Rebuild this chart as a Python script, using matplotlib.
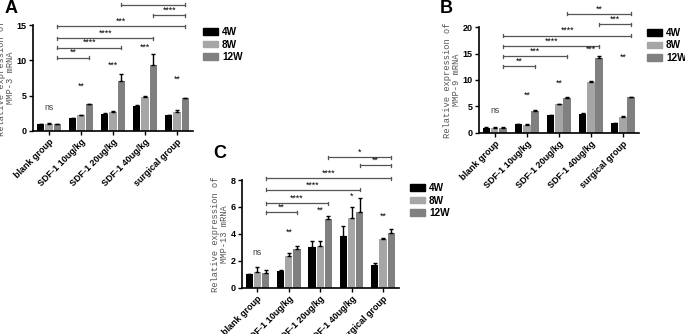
"""
Relative MMP-3 / MMP-9 / MMP-13 mRNA expression across treatment groups (4W, 8W, 12W).
"""

import matplotlib

matplotlib.use("Agg")
import matplotlib.pyplot as plt
from matplotlib.patches import Patch

groups = ["blank group", "SDF-1 10ug/kg", "SDF-1 20ug/kg", "SDF-1 40ug/kg", "surgical group"]
weeks = ["4W", "8W", "12W"]

mmp3_4w = [1.0, 1.8, 2.4, 3.6, 2.2]
mmp3_8w = [1.0, 2.2, 2.7, 4.8, 2.7]
mmp3_12w = [1.0, 3.8, 7.1, 9.3, 4.6]
mmp3_err_4w = [0.05, 0.08, 0.08, 0.08, 0.08]
mmp3_err_8w = [0.08, 0.1, 0.1, 0.1, 0.25]
mmp3_err_12w = [0.05, 0.08, 1.0, 1.6, 0.1]
mmp3_stars = ["ns", "**", "***", "***", "**"]
mmp3_star_y = [2.65, 5.7, 8.7, 11.2, 6.7]
mmp3_brackets = [(0, 1, 10.4, "**"), (0, 2, 11.8, "****"), (0, 3, 13.1, "****"),
                 (0, 4, 14.8, "***"), (3, 4, 16.4, "****"), (2, 4, 17.9, "**")]

mmp9_4w = [1.0, 1.7, 3.3, 3.6, 1.8]
mmp9_8w = [1.0, 1.5, 5.4, 9.6, 3.1]
mmp9_12w = [1.0, 4.2, 6.6, 14.2, 6.7]
mmp9_err_4w = [0.05, 0.08, 0.1, 0.15, 0.08]
mmp9_err_8w = [0.08, 0.1, 0.12, 0.2, 0.1]
mmp9_err_12w = [0.08, 0.1, 0.12, 0.3, 0.15]
mmp9_stars = ["ns", "**", "**", "***", "**"]
mmp9_star_y = [3.3, 6.3, 8.6, 15.0, 13.4]
mmp9_brackets = [(0, 1, 12.6, "**"), (0, 2, 14.5, "***"), (0, 3, 16.4, "****"),
                 (0, 4, 18.4, "****"), (3, 4, 20.5, "***"), (2, 4, 22.5, "**")]

mmp13_4w = [1.03, 1.28, 3.0, 3.87, 1.72]
mmp13_8w = [1.18, 2.4, 3.08, 5.17, 3.62]
mmp13_12w = [1.13, 2.9, 5.12, 5.6, 4.1]
mmp13_err_4w = [0.03, 0.08, 0.45, 0.75, 0.15]
mmp13_err_8w = [0.35, 0.2, 0.4, 0.85, 0.05]
mmp13_err_12w = [0.18, 0.18, 0.2, 1.05, 0.25]
mmp13_stars = ["ns", "**", "**", "*", "**"]
mmp13_star_y = [2.3, 3.8, 5.4, 6.5, 5.0]
mmp13_brackets = [(0, 1, 5.6, "**"), (0, 2, 6.28, "****"), (0, 3, 7.27, "****"),
                  (0, 4, 8.13, "****"), (3, 4, 9.1, "**"), (2, 4, 9.68, "*")]

colors = ["#000000", "#a6a6a6", "#808080"]
offsets = [-0.26, 0.0, 0.26]
width = 0.23
W, H = 685, 334


def plot_panel(ax, series, errors, stars, star_y, brackets, ymax, yticks, gene, letter, legend_px):
    for vals, errs, color, off in zip(series, errors, colors, offsets):
        xs = [i + off for i in range(len(groups))]
        ax.bar(xs, vals, width=width, color=color, zorder=2)
        ax.errorbar(xs, vals, yerr=[[0] * len(vals), errs], fmt="none",
                    ecolor="black", elinewidth=1.0, capsize=1.5, capthick=1.0, zorder=3)
    for i, (s, y) in enumerate(zip(stars, star_y)):
        ax.text(i, y, s, ha="center", va="bottom", fontsize=6.3,
                color="#444444" if s == "ns" else "black")
    cap = ymax * 0.014
    for a, b, y, s in brackets:
        x0, x1 = a + offsets[2], b + offsets[2]
        ax.plot([x0, x1], [y, y], color="#555555", lw=0.9, clip_on=False)
        for xx in (x0, x1):
            ax.plot([xx, xx], [y - cap, y + cap], color="#555555", lw=0.9, clip_on=False)
        ax.text((x0 + x1) / 2, y + cap * 0.3, s, ha="center", va="bottom", fontsize=6.3)
    ax.set_xlim(-0.5, len(groups) - 0.5)
    ax.set_ylim(0, ymax)
    ax.set_yticks(yticks)
    ax.set_xticks(range(len(groups)))
    ax.set_xticklabels(groups, rotation=45, ha="right", rotation_mode="anchor",
                       fontsize=6.5, fontweight="bold")
    for lab in ax.get_yticklabels():
        lab.set_fontsize(6.5)
        lab.set_fontweight("bold")
    ax.tick_params(axis="both", length=3, width=1.0, pad=1.5)
    for side in ("top", "right"):
        ax.spines[side].set_visible(False)
    for side in ("left", "bottom"):
        ax.spines[side].set_linewidth(1.2)
    ax.set_ylabel(f"Relative expression of\n{gene} mRNA", family="Liberation Mono",
                  fontsize=6.3, color="#555555", linespacing=0.95, labelpad=1)
    handles = [Patch(facecolor=c, edgecolor=c) for c in colors]
    ax.figure.legend(handles, weeks, loc="upper left",
                     bbox_to_anchor=(legend_px[0] / W, 1 - legend_px[1] / H),
                     frameon=False, borderpad=0, borderaxespad=0,
                     handlelength=1.45, handleheight=0.6, handletextpad=0.45,
                     labelspacing=0.25, prop={"size": 7.2, "weight": "bold"})
    ax.figure.text(*letter[1:], letter[0], fontsize=13, fontweight="bold", va="top")


if __name__ == "__main__":
    plt.rcParams["font.family"] = ["Liberation Sans", "DejaVu Sans"]
    fig = plt.figure(figsize=(W / 100, H / 100), dpi=100)
    ax_a = fig.add_axes([0.048, 0.608, 0.2336, 0.317])
    ax_b = fig.add_axes([0.699, 0.602, 0.2336, 0.317])
    ax_c = fig.add_axes([0.353, 0.138, 0.229, 0.323])

    plot_panel(ax_a, [mmp3_4w, mmp3_8w, mmp3_12w],
               [mmp3_err_4w, mmp3_err_8w, mmp3_err_12w],
               mmp3_stars, mmp3_star_y, mmp3_brackets, 15, [0, 5, 10, 15],
               "MMP-3", ("A", 0.006, 1.0), (203, 27))
    plot_panel(ax_b, [mmp9_4w, mmp9_8w, mmp9_12w],
               [mmp9_err_4w, mmp9_err_8w, mmp9_err_12w],
               mmp9_stars, mmp9_star_y, mmp9_brackets, 20, [0, 5, 10, 15, 20],
               "MMP-9", ("B", 0.642, 1.0), (647, 28))
    plot_panel(ax_c, [mmp13_4w, mmp13_8w, mmp13_12w],
               [mmp13_err_4w, mmp13_err_8w, mmp13_err_12w],
               mmp13_stars, mmp13_star_y, mmp13_brackets, 8, [0, 2, 4, 6, 8],
               "MMP-13", ("C", 0.312, 0.565), (410, 183))

    fig.savefig("out.png", dpi=100)
